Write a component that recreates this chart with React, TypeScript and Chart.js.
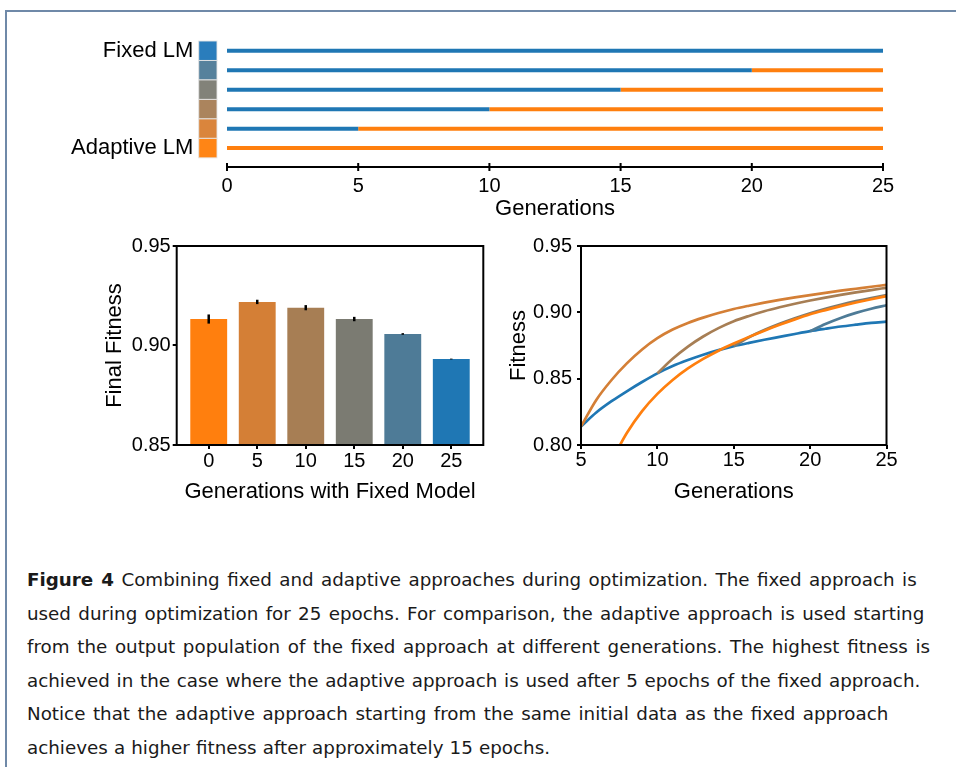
import React, { useEffect, useLayoutEffect, useRef } from 'react';
import { Chart, registerables } from 'chart.js';

Chart.register(...registerables);

// ---------------- data ----------------
const TIMELINE_MAX = 25;
const timelineTicks = [0, 5, 10, 15, 20, 25];
// generation at which each row switches from the fixed to the adaptive model (top row -> bottom row)
const switchGenerations = [25, 20, 15, 10, 5, 0];
const rowNames = ['Fixed LM', '', '', '', '', 'Adaptive LM'];
const FIXED_COLOR = '#1f77b4';
const ADAPTIVE_COLOR = '#ff7f0e';
const rowColors = ['#2a7dbc', '#56819c', '#828279', '#ab845d', '#da853c', '#ff8515'];

const barCategories = ['0', '5', '10', '15', '20', '25'];
const barFitness = [0.9133, 0.9219, 0.919, 0.9133, 0.9058, 0.8932];
const barError = [0.0023, 0.0011, 0.0013, 0.0011, 0.0004, 0.0002];
const barColors = ['#ff7f0e', '#d47f36', '#a77e54', '#7b7b72', '#4e7b97', '#1f77b4'];
const barYTicks = [0.85, 0.9, 0.95];

const lineXTicks = [5, 10, 15, 20, 25];
const lineYTicks = [0.8, 0.85, 0.9, 0.95];

const fixedGens = [5, 6, 7, 8, 9, 10, 11, 12, 13, 14, 15, 16, 17, 18, 19, 20, 21, 22, 23, 24, 25];
const fixedFit = [0.814, 0.8245, 0.833, 0.8405, 0.8475, 0.854, 0.8595, 0.864, 0.868, 0.8715, 0.8745, 0.877, 0.8793, 0.8815, 0.8837, 0.8858, 0.8876, 0.8893, 0.8907, 0.892, 0.893];

const switch5Gens = [5, 6, 7, 8, 9, 10, 11, 12, 13, 14, 15, 16, 17, 18, 19, 20, 21, 22, 23, 24, 25];
const switch5Fit = [0.814, 0.834, 0.849, 0.8615, 0.872, 0.8805, 0.887, 0.892, 0.896, 0.8995, 0.9025, 0.905, 0.9073, 0.9094, 0.9113, 0.913, 0.9147, 0.9163, 0.9178, 0.9193, 0.9207];

const switch10Gens = [10, 11, 12, 13, 14, 15, 16, 17, 18, 19, 20, 21, 22, 23, 24, 25];
const switch10Fit = [0.854, 0.865, 0.8742, 0.8818, 0.8881, 0.8933, 0.8973, 0.9008, 0.9038, 0.9065, 0.9089, 0.9111, 0.9131, 0.915, 0.9168, 0.9185];

const switch15Gens = [15, 16, 17, 18, 19, 20, 21, 22, 23, 24, 25];
const switch15Fit = [0.8745, 0.8812, 0.8866, 0.8913, 0.8955, 0.8993, 0.9027, 0.9057, 0.9084, 0.9108, 0.913];

const switch20Gens = [20, 21, 22, 23, 24, 25];
const switch20Fit = [0.8858, 0.8912, 0.8958, 0.8996, 0.9027, 0.9053];

const adaptiveGens = [7, 8, 9, 10, 11, 12, 13, 14, 15, 16, 17, 18, 19, 20, 21, 22, 23, 24, 25];
const adaptiveFit = [0.788, 0.809, 0.8255, 0.8385, 0.849, 0.8577, 0.8649, 0.8711, 0.8765, 0.8815, 0.8862, 0.8906, 0.8947, 0.8985, 0.9017, 0.9047, 0.9074, 0.9099, 0.9122];

const captionLines: string[] = [
  ' Combining fixed and adaptive approaches during optimization. The fixed approach is',
  'used during optimization for 25 epochs. For comparison, the adaptive approach is used starting',
  'from the output population of the fixed approach at different generations. The highest fitness is',
  'achieved in the case where the adaptive approach is used after 5 epochs of the fixed approach.',
  'Notice that the adaptive approach starting from the same initial data as the fixed approach',
  'achieves a higher fitness after approximately 15 epochs.',
];

// ---------------- layout / styling ----------------
const CAPTION_LEFT = 27;
const captionRightEdges = [916.7, 924.3, 930, 920.3, 888.3, 550];

const FONT = "'Liberation Sans', Arial, sans-serif";
const tickFont = { family: FONT, size: 20 };
const titleFont = { family: FONT, size: 22 };

const toTicks = (arr: number[]) => (s: any) => {
  s.ticks = arr.map((v) => ({ value: v }));
};

const boxPlugin = {
  id: 'boxFrame',
  afterDraw(chart: any) {
    const { ctx, chartArea: a } = chart;
    ctx.save();
    ctx.strokeStyle = '#000';
    ctx.lineWidth = 2;
    ctx.strokeRect(a.left, a.top, a.right - a.left, a.bottom - a.top);
    ctx.restore();
  },
};

const errorBarPlugin = {
  id: 'errorBars',
  afterDatasetsDraw(chart: any) {
    const { ctx, scales } = chart;
    const x = scales.x;
    const y = scales.y;
    ctx.save();
    ctx.strokeStyle = '#000';
    ctx.lineWidth = 2.5;
    barFitness.forEach((v, i) => {
      const px = x.getPixelForValue(i);
      ctx.beginPath();
      ctx.moveTo(px, y.getPixelForValue(v - barError[i]));
      ctx.lineTo(px, y.getPixelForValue(v + barError[i]));
      ctx.stroke();
    });
    ctx.restore();
  },
};

const timelinePlugin = {
  id: 'timelineDecor',
  afterDraw(chart: any) {
    const { ctx, chartArea: a, scales } = chart;
    const x = scales.x;
    const y = scales.y;
    ctx.save();
    rowColors.forEach((c, i) => {
      const y0 = y.getPixelForValue(i - 0.5);
      const y1 = y.getPixelForValue(i + 0.5);
      ctx.fillStyle = c;
      ctx.fillRect(a.left - 28.3, y0, 18.3, y1 - y0);
      ctx.strokeStyle = 'rgba(230,230,230,0.9)';
      ctx.lineWidth = 1;
      ctx.strokeRect(a.left - 28.3, y0, 18.3, y1 - y0);
    });
    ctx.strokeStyle = '#000';
    ctx.lineWidth = 2;
    timelineTicks.forEach((t) => {
      const px = x.getPixelForValue(t);
      ctx.beginPath();
      ctx.moveTo(px, a.bottom - 4);
      ctx.lineTo(px, a.bottom + 4);
      ctx.stroke();
    });
    ctx.restore();
  },
};

function makeTimelineConfig(): any {
  const datasets: any[] = [];
  switchGenerations.forEach((g, row) => {
    if (g > 0) {
      datasets.push({ data: [{ x: 0, y: row }, { x: g, y: row }], borderColor: FIXED_COLOR });
    }
    if (g < TIMELINE_MAX) {
      datasets.push({ data: [{ x: g, y: row }, { x: TIMELINE_MAX, y: row }], borderColor: ADAPTIVE_COLOR });
    }
  });
  datasets.forEach((d) => {
    d.showLine = true;
    d.borderWidth = 4;
    d.pointRadius = 0;
    d.fill = false;
    d.borderCapStyle = 'butt';
  });
  return {
    type: 'scatter',
    data: { datasets },
    options: {
      animation: false,
      responsive: false,
      layout: { padding: { left: 0, right: 73, top: 21, bottom: 0 } },
      plugins: { legend: { display: false }, tooltip: { enabled: false } },
      scales: {
        x: {
          type: 'linear',
          min: 0,
          max: TIMELINE_MAX,
          afterBuildTicks: toTicks(timelineTicks),
          afterFit: (s: any) => { s.height = 58; },
          grid: { display: false, drawTicks: false },
          border: { display: true, color: '#000', width: 2 },
          ticks: { padding: 7, color: '#000', font: tickFont, autoSkip: false, maxRotation: 0 },
          title: { display: true, text: 'Generations', color: '#000', font: titleFont, padding: { top: 0, bottom: 2.8 } },
        },
        y: {
          type: 'linear',
          reverse: true,
          min: -0.5,
          max: 5.97,
          afterBuildTicks: toTicks(rowNames.map((_, i) => i)),
          afterFit: (s: any) => {
            s.width = 227;
            s.paddingTop = 0;
            s.paddingBottom = 0;
          },
          grid: { display: false, drawTicks: false },
          border: { display: false },
          ticks: {
            padding: 33.7,
            color: '#000',
            font: { family: FONT, size: 22 },
            autoSkip: false,
            callback: (v: any) => rowNames[v] ?? '',
          },
        },
      },
    },
    plugins: [timelinePlugin],
  };
}

const axisGrid = {
  display: true,
  drawOnChartArea: false,
  drawTicks: true,
  tickLength: 4,
  color: '#000',
  lineWidth: 2,
  offset: false,
};

function makeBarConfig(): any {
  return {
    type: 'bar',
    data: {
      datasets: [
        {
          data: barFitness.map((v, i) => ({ x: i, y: v })),
          backgroundColor: barColors,
          barPercentage: 0.76,
          categoryPercentage: 1,
          base: 0.85,
        },
      ],
    },
    options: {
      animation: false,
      responsive: false,
      layout: { padding: { left: 0, right: 6.7, top: 20, bottom: 0 } },
      plugins: { legend: { display: false }, tooltip: { enabled: false } },
      scales: {
        x: {
          type: 'linear',
          min: -0.66,
          max: 5.66,
          offset: false,
          afterBuildTicks: toTicks(barCategories.map((_, i) => i)),
          afterFit: (s: any) => { s.height = 71; },
          grid: axisGrid,
          border: { display: false },
          ticks: { padding: 0, color: '#000', font: tickFont, autoSkip: false, maxRotation: 0, callback: (v: any) => barCategories[v] ?? '' },
          title: { display: true, text: 'Generations with Fixed Model', color: '#000', font: titleFont, padding: { top: 0, bottom: 10.8 } },
        },
        y: {
          type: 'linear',
          min: 0.85,
          max: 0.95,
          afterBuildTicks: toTicks(barYTicks),
          afterFit: (s: any) => { s.width = 86.7; },
          grid: axisGrid,
          border: { display: false },
          ticks: { padding: 2, color: '#000', font: tickFont, callback: (v: any) => Number(v).toFixed(2) },
          title: { display: true, text: 'Final Fitness', color: '#000', font: titleFont, padding: { top: 11.8, bottom: 0 } },
        },
      },
    },
    plugins: [errorBarPlugin, boxPlugin],
  };
}

function series(gens: number[], fit: number[], color: string) {
  return {
    data: gens.map((g, i) => ({ x: g, y: fit[i] })),
    borderColor: color,
    backgroundColor: color,
    borderWidth: 2.7,
    pointRadius: 0,
    fill: false,
    cubicInterpolationMode: 'monotone',
  };
}

function makeLineConfig(): any {
  return {
    type: 'line',
    data: {
      datasets: [
        series(adaptiveGens, adaptiveFit, '#ff7f0e'),
        series(switch5Gens, switch5Fit, '#d47f36'),
        series(switch10Gens, switch10Fit, '#a77e54'),
        series(switch15Gens, switch15Fit, '#7b7b72'),
        series(switch20Gens, switch20Fit, '#4e7b97'),
        series(fixedGens, fixedFit, '#1f77b4'),
      ],
    },
    options: {
      animation: false,
      responsive: false,
      layout: { padding: { left: 0, right: 18.5, top: 20, bottom: 0 } },
      plugins: { legend: { display: false }, tooltip: { enabled: false } },
      scales: {
        x: {
          type: 'linear',
          min: 5,
          max: 25,
          afterBuildTicks: toTicks(lineXTicks),
          afterFit: (s: any) => { s.height = 71; },
          grid: axisGrid,
          border: { display: false },
          ticks: { padding: -1, color: '#000', font: tickFont, autoSkip: false, maxRotation: 0 },
          title: { display: true, text: 'Generations', color: '#000', font: titleFont, padding: { top: 0, bottom: 10.8 } },
        },
        y: {
          type: 'linear',
          min: 0.8,
          max: 0.95,
          afterBuildTicks: toTicks(lineYTicks),
          afterFit: (s: any) => { s.width = 86; },
          grid: axisGrid,
          border: { display: false },
          ticks: { padding: 5, color: '#000', font: tickFont, callback: (v: any) => Number(v).toFixed(2) },
          title: { display: true, text: 'Fitness', color: '#000', font: titleFont, padding: { top: 10.3, bottom: 0 } },
        },
      },
    },
    plugins: [boxPlugin],
  };
}

function ChartCanvas(props: { make: () => any; left: number; top: number; width: number; height: number }) {
  const ref = useRef<HTMLCanvasElement | null>(null);
  useEffect(() => {
    if (!ref.current) return;
    const chart = new Chart(ref.current, props.make());
    return () => chart.destroy();
  }, []);
  return (
    <canvas
      ref={ref}
      width={props.width}
      height={props.height}
      style={{ position: 'absolute', left: props.left, top: props.top, width: props.width, height: props.height }}
    />
  );
}

function Caption() {
  const spans = useRef<(HTMLSpanElement | null)[]>([]);
  useLayoutEffect(() => {
    spans.current.forEach((el, i) => {
      if (!el) return;
      el.style.wordSpacing = '0px';
      const w = el.getBoundingClientRect().width;
      const target = captionRightEdges[i] - CAPTION_LEFT;
      const text = (i === 0 ? 'Figure 4' : '') + captionLines[i];
      const spaces = (text.match(/ /g) || []).length;
      if (spaces > 0) el.style.wordSpacing = `${(target - w) / spaces}px`;
    });
  }, []);
  return (
    <div
      style={{
        position: 'absolute',
        left: CAPTION_LEFT,
        top: 563,
        fontFamily: "'DejaVu Sans', sans-serif",
        fontSize: 18.3,
        lineHeight: '33.6px',
        color: '#1a1a1a',
        whiteSpace: 'pre',
      }}
    >
      {captionLines.map((line, i) => (
        <div key={i}>
          <span ref={(el) => { spans.current[i] = el; }}>
            {i === 0 ? <b>Figure 4</b> : null}
            {line}
          </span>
        </div>
      ))}
    </div>
  );
}

export default function App() {
  return (
    <div style={{ position: 'absolute', left: 0, top: 0, width: 956, height: 767, overflow: 'hidden', background: '#fff' }}>
      <div
        style={{
          position: 'absolute',
          left: 5,
          top: 10,
          width: 1000,
          height: 1000,
          borderTop: '2px solid #6f89a8',
          borderLeft: '2px solid #6f89a8',
        }}
      />
      <ChartCanvas make={makeTimelineConfig} left={0} top={20} width={956} height={205} />
      <ChartCanvas make={makeBarConfig} left={90} top={226} width={400} height={290} />
      <ChartCanvas make={makeLineConfig} left={495} top={226} width={410} height={290} />
      <Caption />
    </div>
  );
}
